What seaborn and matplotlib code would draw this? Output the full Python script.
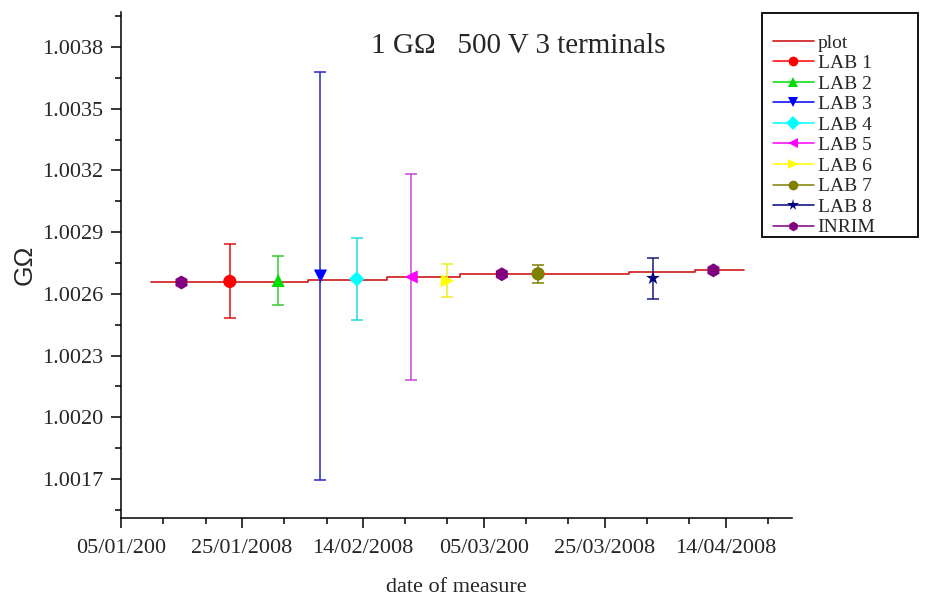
import matplotlib
matplotlib.use("Agg")
import matplotlib.pyplot as plt
import matplotlib.dates as mdates
from matplotlib.lines import Line2D
from matplotlib.patches import Rectangle
from matplotlib.ticker import FixedLocator, FixedFormatter, FormatStrFormatter
import pandas as pd
import seaborn as sns

# ---- measurement data -------------------------------------------------
labs = ["LAB 1", "LAB 2", "LAB 3", "LAB 4", "LAB 5", "LAB 6", "LAB 7", "LAB 8",
        "INRIM", "INRIM", "INRIM"]
dates = ["2008-01-23", "2008-01-31", "2008-02-07", "2008-02-13", "2008-02-22",
         "2008-02-28", "2008-03-14", "2008-04-02",
         "2008-01-15", "2008-03-08", "2008-04-12"]
values = [1.002660, 1.002665, 1.002686, 1.002672, 1.002682,
          1.002663, 1.002697, 1.002676,
          1.002655, 1.002695, 1.002714]
uncert = [0.00018, 0.00012, 0.00099, 0.00020, 0.00050,
          0.00008, 0.000045, 0.00010,
          0.0, 0.0, 0.0]

# reference drift of the INRIM standard (stepwise)
ref_dates = ["2008-01-10", "2008-02-05", "2008-02-18", "2008-03-01",
             "2008-03-29", "2008-04-09", "2008-04-17"]
ref_values = [1.002657, 1.002669, 1.002681, 1.002695,
              1.002705, 1.002717, 1.002717]

# axis ticks
xtick_dates = ["2008-01-05", "2008-01-25", "2008-02-14", "2008-03-05",
               "2008-03-25", "2008-04-14"]
xtick_labels = ["05/01/200", "25/01/2008", "14/02/2008", "05/03/200",
                "25/03/2008", "14/04/2008"]
ytick_values = [1.0017, 1.0020, 1.0023, 1.0026, 1.0029, 1.0032, 1.0035, 1.0038]

# ---- styling ----------------------------------------------------------
legend_order = ["LAB 1", "LAB 2", "LAB 3", "LAB 4", "LAB 5", "LAB 6",
                "LAB 7", "LAB 8", "INRIM"]
palette = {"LAB 1": "#ff0000", "LAB 2": "#00dd00", "LAB 3": "#0000ff",
           "LAB 4": "#00ffff", "LAB 5": "#ff00ff", "LAB 6": "#ffff00",
           "LAB 7": "#808000", "LAB 8": "#000080", "INRIM": "#800080"}
bar_colors = {"LAB 1": "#dd1111", "LAB 2": "#33cc33", "LAB 3": "#2a2ac8",
              "LAB 4": "#22dddd", "LAB 5": "#cc44dd", "LAB 6": "#eeee22",
              "LAB 7": "#808000", "LAB 8": "#1a1a80", "INRIM": "#800080"}
markers = {"LAB 1": "o", "LAB 2": "^", "LAB 3": "v", "LAB 4": "D",
           "LAB 5": "<", "LAB 6": ">", "LAB 7": "o", "LAB 8": "*",
           "INRIM": "h"}
msizes = {"LAB 1": 90, "LAB 2": 90, "LAB 3": 90, "LAB 4": 60,
          "LAB 5": 90, "LAB 6": 90, "LAB 7": 90, "LAB 8": 110, "INRIM": 100}
line_color = "#d01818"

sns.set_style("ticks")
plt.rcParams["font.family"] = ["Liberation Serif", "DejaVu Serif"]
plt.rcParams["axes.linewidth"] = 1.1

df = pd.DataFrame({"lab": labs, "date": pd.to_datetime(dates),
                   "value": values, "u": uncert})
ref = pd.DataFrame({"date": pd.to_datetime(ref_dates), "value": ref_values})

fig = plt.figure(figsize=(9.29, 6.0), dpi=100)
ax = fig.add_axes([121 / 929, 1 - 518 / 600, (792 - 121) / 929, (518 - 12) / 600])

# drift line
sns.lineplot(data=ref, x="date", y="value", ax=ax, color=line_color,
             linewidth=1.2, drawstyle="steps-post", zorder=2)

# error bars
for _, r in df.iterrows():
    if r["u"] > 0:
        ax.errorbar(r["date"], r["value"], yerr=r["u"], fmt="none",
                    ecolor=bar_colors[r["lab"]], elinewidth=1.1,
                    capsize=4.5, capthick=1.1, zorder=3)

# markers
for lab in legend_order:
    sub = df[df["lab"] == lab]
    sns.scatterplot(data=sub, x="date", y="value", ax=ax, color=palette[lab],
                    marker=markers[lab], s=msizes[lab], edgecolor="none",
                    linewidth=0, zorder=4, legend=False)

# axes limits and ticks
ax.set_xlim(pd.Timestamp("2008-01-05"), pd.Timestamp("2008-04-25"))
ax.set_ylim(1.00151, 1.00397)

xt = [mdates.date2num(pd.Timestamp(d)) for d in xtick_dates]
ax.xaxis.set_major_locator(FixedLocator(xt))
ax.xaxis.set_major_formatter(FixedFormatter(xtick_labels))
minor_x = []
for v in xt:
    minor_x += [v + 7, v + 14]
ax.xaxis.set_minor_locator(FixedLocator(minor_x))

ax.yaxis.set_major_locator(FixedLocator(ytick_values))
ax.yaxis.set_major_formatter(FormatStrFormatter("%.4f"))
ax.yaxis.set_minor_locator(FixedLocator([v + 0.00015 for v in ytick_values] + [1.00155]))

ax.tick_params(axis="both", which="major", direction="out", length=7.5,
               width=1.1, labelsize=16, color="black", pad=5.5)
ax.tick_params(axis="both", which="minor", direction="out", length=4,
               width=1.1, color="black")
ax.tick_params(axis="x", which="major", pad=7.5)

sns.despine(ax=ax, top=True, right=True)
for s in ["left", "bottom"]:
    ax.spines[s].set_color("black")

ax.set_xlabel("date of measure", fontsize=16)
ax.xaxis.set_label_coords(0.5, -0.118)
ax.set_ylabel("GΩ", fontsize=19, family=["Liberation Sans", "DejaVu Sans"])
ax.yaxis.set_label_coords(-0.125, 0.5)

ax.text(0.592, 0.919, "1 GΩ   500 V 3 terminals", transform=ax.transAxes,
        ha="center", va="baseline", fontsize=21)

# legend
handles = [Line2D([], [], color=line_color, linewidth=1.2)]
for lab in legend_order:
    handles.append(Line2D([], [], color=palette[lab], marker=markers[lab],
                          markersize=7 if markers[lab] != "*" else 8.5,
                          markeredgewidth=0, linewidth=1.1))
leg = fig.legend(handles, ["plot"] + legend_order, loc="upper left",
                 bbox_to_anchor=(773 / 929, 1 - 34 / 600),
                 bbox_transform=fig.transFigure, fontsize=14,
                 labelspacing=0.15, handlelength=2.1, handletextpad=0.2,
                 borderpad=0, borderaxespad=0, frameon=False)
fig.add_artist(Rectangle((762 / 929, 1 - 237 / 600), 156 / 929, 224 / 600,
                         transform=fig.transFigure, fill=False,
                         edgecolor="black", linewidth=1.3))

fig.savefig("out.png", dpi=100)
